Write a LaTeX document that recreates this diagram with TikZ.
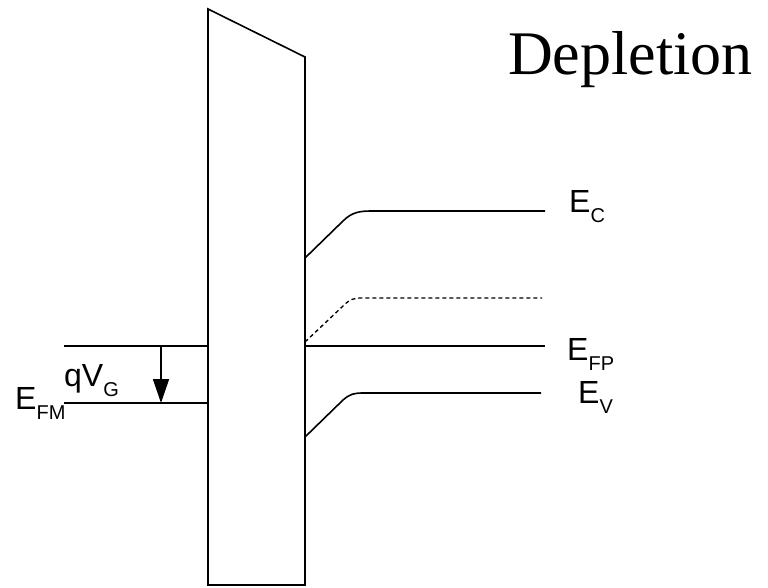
\documentclass[tikz,border=0pt]{standalone}
\usepackage{fontspec}
\setmainfont{Liberation Serif}
\newfontfamily\lblfont{Liberation Sans}
\usepackage{tikz}
\usetikzlibrary{arrows.meta,positioning}
\tikzset{
  band/.style={line width=1.6pt},
  trap/.style={line width=1.3pt,dash pattern=on 4pt off 3pt},
  lbl/.style={anchor=base west,inner sep=0pt,font=\lblfont\fontsize{32}{36}\selectfont}
}
\newcommand\lvl[2]{#1\raisebox{-10pt}{\fontsize{20}{24}\selectfont #2}}

\begin{document}
\begin{tikzpicture}[x=1pt,y=-1pt]
  \useasboundingbox (0,0) rectangle (768,587);
  % oxide
  \draw[band] (208,9)--(305,57)--(305,585)--(208,585)--cycle;
  % metal side
  \draw[band] (64,346)--(208,346);
  \draw[band] (64,403)--(208,403);
  \coordinate (vtop) at (161,346);
  \coordinate (vbot) at (161,403);
  \draw[band,-{Triangle[length=24pt,width=16pt]}] (vtop)--(vbot);
  % semiconductor bands
  \draw[band] (305,258)--(343,221) .. controls (352,212) and (360,211) .. (372,211)--(545,211);
  \draw[trap] (305,342)--(343,306) .. controls (350,299) and (354,298) .. (362,298)--(542,298);
  \draw[band] (305,346)--(545,346);
  \draw[band] (305,437)--(343,400) .. controls (350,394) and (354,393) .. (363,393)--(541,393);
  % labels
  \node[lbl] (ec) at (569,212) {\lvl{E}{C}};
  \node[lbl] (efp) at (567,360) {\lvl{E}{FP}};
  \node[lbl] (ev) at (578,403) {\lvl{E}{V}};
  \node[lbl] (efm) at (15,409) {\lvl{E}{FM}};
  \node[lbl] (qvg) at (64,386) {q\lvl{V}{G}};
  \node[anchor=base west,inner sep=0pt,font=\fontsize{62}{70}\selectfont] (title) at (508,74) {Depletion};
\end{tikzpicture}
\end{document}
